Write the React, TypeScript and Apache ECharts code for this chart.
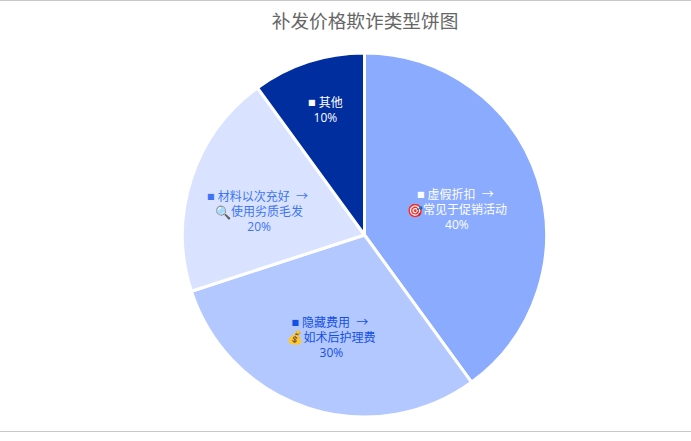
import React, { useEffect, useRef } from "react";
import * as echarts from "echarts";

const titleText = "补发价格欺诈类型饼图";
const names = ["虚假折扣", "隐藏费用", "材料以次充好", "其他"];
const values = [40, 30, 20, 10];
const icons = ["🎯", "💰", "🔍", ""];
const notes = ["常见于促销活动", "如术后护理费", "使用劣质毛发", ""];
const sliceColors = ["#8aabff", "#b3c8ff", "#d9e3ff", "#002e9f"];
const labelColors = ["#ffffff", "#1450e8", "#3d74f5", "#ffffff"];
const labelShifts = [[3, 4], [-4, 13], [-16, 6], [-10, -36]];

export default function App() {
  const ref = useRef<HTMLDivElement>(null);
  useEffect(() => {
    document.body.style.margin = "0";
    const chart = echarts.init(ref.current!, null, { renderer: "svg" });
    chart.setOption({
      animation: false,
      backgroundColor: "#fff",
      title: {
        text: titleText,
        left: 360,
        textAlign: "center",
        top: 5,
        textStyle: { fontSize: 18.67, fontWeight: "normal", color: "#666666", fontFamily: "'Noto Sans CJK SC','Open Sans',sans-serif" },
      },
      series: [
        {
          type: "pie",
          center: [364.5, 235],
          radius: [0, 182],
          startAngle: 90,
          clockwise: true,
          itemStyle: { borderColor: "#fff", borderWidth: 3 },
          labelLine: { show: false },
          data: names.map((name, i) => ({
            name,
            value: values[i],
            itemStyle: { color: sliceColors[i] },
            label: {
              show: true,
              position: "inside",
              offset: labelShifts[i],
              color: labelColors[i],
              fontSize: 12,
              lineHeight: 15,
              fontFamily: "'Open Sans','Noto Sans CJK SC',sans-serif",
              rich: {
                s: { fontSize: 8, lineHeight: 15, color: labelColors[i], fontFamily: "'DejaVu Sans',sans-serif" },
                e: { fontSize: 13, lineHeight: 15 },
              },
              formatter: () =>
                notes[i]
                  ? `{s|■} ${name}  → \n{e|${icons[i]}}${notes[i]}\n${values[i]}%`
                  : `{s|■} ${name}\n${values[i]}%`,
            },
          })),
        },
      ],
    });
    return () => chart.dispose();
  }, []);
  return (
    <div style={{ width: 691, height: 441, position: "relative", background: "#fff" }}>
      <div ref={ref} style={{ width: 691, height: 441 }} />
      <div style={{ position: "absolute", left: 0, top: 0, width: 691, height: 1, background: "#c8c8c8" }} />
      <div style={{ position: "absolute", left: 0, top: 431, width: 691, height: 1, background: "#c8c8c8" }} />
    </div>
  );
}
